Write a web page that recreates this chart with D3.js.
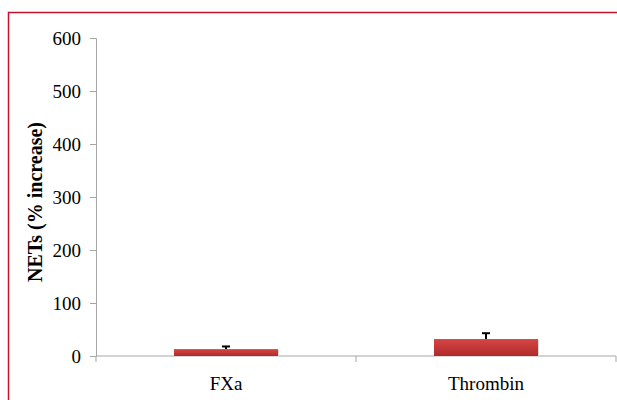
<!DOCTYPE html>
<html>
<head>
<meta charset="utf-8">
<script src="https://cdn.jsdelivr.net/npm/d3@7"></script>
<style>
  body { margin: 0; background: #fff; }
  svg text { font-family: "Liberation Serif", "Times New Roman", serif; fill: #000; }
</style>
</head>
<body>
<svg width="617" height="400"></svg>
<script>
var categories = ["FXa", "Thrombin"];
var values = [13, 32];
var errors = [5, 11];
var yTicks = [0, 100, 200, 300, 400, 500, 600];

var svg = d3.select("svg"),
    width = +svg.attr("width"),
    height = +svg.attr("height");

// red frame of the figure
svg.append("rect")
    .attr("x", 8.5).attr("y", 12.5)
    .attr("width", 640).attr("height", 420)
    .attr("fill", "none")
    .attr("stroke", "#c8102e")
    .attr("stroke-width", 1.5);

var defs = svg.append("defs");
var grad = defs.append("linearGradient")
    .attr("id", "barGrad")
    .attr("x1", 0).attr("y1", 0).attr("x2", 0).attr("y2", 1);
grad.append("stop").attr("offset", "0%").attr("stop-color", "#d64545");
grad.append("stop").attr("offset", "100%").attr("stop-color", "#b02a2a");

var plotLeft = 96, plotRight = 616, plotTop = 38, plotBottom = 356;

var x = d3.scaleBand()
    .domain(categories)
    .range([plotLeft, plotRight])
    .paddingInner(0.6)
    .paddingOuter(0.3);

var y = d3.scaleLinear()
    .domain([0, 600])
    .range([plotBottom, plotTop]);

// y axis
var yAxis = svg.append("g")
    .attr("transform", "translate(" + plotLeft + ",0)")
    .call(d3.axisLeft(y).tickValues(yTicks).tickSize(6).tickPadding(9));
yAxis.select(".domain").attr("stroke", "#a6a6a6");
yAxis.selectAll(".tick line").attr("stroke", "#a6a6a6");
yAxis.selectAll("text").style("font-size", "19px");

// x axis with ticks between categories
var xAxisLine = svg.append("g");
xAxisLine.append("line")
    .attr("x1", plotLeft).attr("x2", plotRight)
    .attr("y1", plotBottom).attr("y2", plotBottom)
    .attr("stroke", "#a6a6a6");
var step = (plotRight - plotLeft) / categories.length;
d3.range(categories.length + 1).forEach(function(i) {
    xAxisLine.append("line")
        .attr("x1", plotLeft + i * step).attr("x2", plotLeft + i * step)
        .attr("y1", plotBottom).attr("y2", plotBottom + 6)
        .attr("stroke", "#a6a6a6");
});
svg.append("g").selectAll("text")
    .data(categories)
    .enter().append("text")
    .attr("x", function(d) { return x(d) + x.bandwidth() / 2; })
    .attr("y", 390)
    .attr("text-anchor", "middle")
    .style("font-size", "19px")
    .text(function(d) { return d; });

// bars with soft shadow
var bars = svg.append("g");
bars.selectAll(".shadow")
    .data(values)
    .enter().append("rect")
    .attr("x", function(d, i) { return x(categories[i]) + 1; })
    .attr("y", function(d) { return y(d) + 1; })
    .attr("width", x.bandwidth())
    .attr("height", function(d) { return plotBottom - y(d); })
    .attr("fill", "#d9d9d9");
bars.selectAll(".bar")
    .data(values)
    .enter().append("rect")
    .attr("x", function(d, i) { return x(categories[i]); })
    .attr("y", function(d) { return y(d); })
    .attr("width", x.bandwidth())
    .attr("height", function(d) { return plotBottom - y(d); })
    .attr("fill", "url(#barGrad)");

// error bars (upper only)
var err = svg.append("g").attr("stroke", "#000").attr("stroke-width", 2);
values.forEach(function(v, i) {
    var cx = x(categories[i]) + x.bandwidth() / 2;
    err.append("line")
        .attr("x1", cx).attr("x2", cx)
        .attr("y1", y(v)).attr("y2", y(v + errors[i]));
    err.append("line")
        .attr("x1", cx - 4).attr("x2", cx + 4)
        .attr("y1", y(v + errors[i])).attr("y2", y(v + errors[i]));
});

// y label
svg.append("text")
    .attr("transform", "translate(42," + ((plotTop + plotBottom) / 2 + 5) + ") rotate(-90)")
    .attr("text-anchor", "middle")
    .style("font-size", "20px")
    .style("font-weight", "bold")
    .text("NETs (% increase)");
</script>
</body>
</html>
